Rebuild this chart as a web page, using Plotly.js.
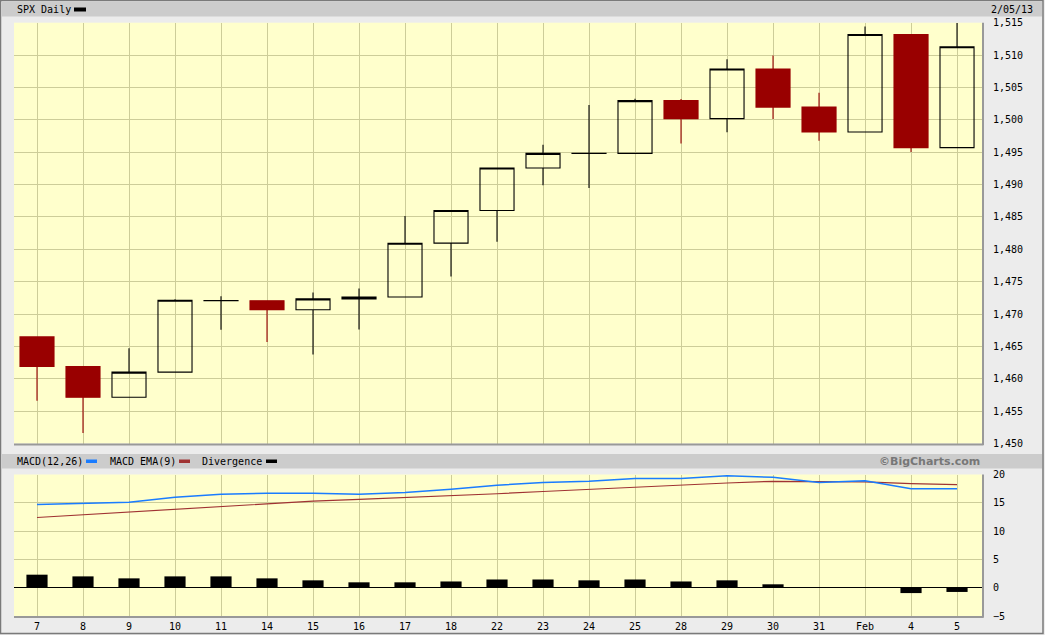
<!DOCTYPE html>
<html>
<head>
<meta charset="utf-8">
<script src="https://cdn.plot.ly/plotly-3.0.1.min.js"></script>
<style>
html,body{margin:0;padding:0;background:#ececec;}
#chart{width:1045px;height:635px;}
</style>
</head>
<body>
<div id="chart"></div>
<script>
// Category labels (trading days, Jan 7 – Feb 5, 2013)
const dates = ['7','8','9','10','11','14','15','16','17','18','22','23','24','25','28','29','30','31','Feb','4','5'];
// SPX daily OHLC
const open  = [1466.47,1461.89,1457.15,1461.02,1472.05,1472.05,1470.67,1472.33,1472.63,1480.95,1485.98,1492.56,1494.81,1494.82,1502.96,1500.18,1507.84,1501.96,1498.11,1513.17,1495.71];
const high  = [1466.47,1461.89,1464.73,1472.30,1472.75,1472.05,1473.31,1473.96,1485.16,1485.98,1492.56,1496.13,1502.27,1503.26,1503.23,1509.35,1509.94,1504.19,1514.41,1513.17,1514.96];
const low   = [1456.62,1451.64,1457.15,1461.02,1467.58,1465.69,1463.76,1467.60,1472.63,1475.81,1481.16,1489.90,1489.46,1494.82,1496.33,1498.09,1500.11,1496.76,1498.11,1495.02,1495.71];
const close = [1461.89,1457.15,1461.02,1472.12,1472.10,1470.68,1472.34,1472.63,1480.94,1485.98,1492.56,1494.81,1494.82,1502.96,1500.18,1507.84,1501.96,1498.11,1513.17,1495.71,1511.29];
// MACD panel
const macd       = [14.7,14.9,15.1,16.0,16.5,16.7,16.7,16.5,16.8,17.4,18.1,18.6,18.8,19.3,19.3,19.8,19.5,18.6,18.9,17.5,17.5];
const signal     = [12.4,12.9,13.4,13.9,14.4,14.9,15.3,15.6,15.9,16.2,16.6,17.0,17.4,17.8,18.1,18.5,18.8,18.7,18.7,18.4,18.2];
const divergence = [2.3,2.0,1.65,2.0,2.0,1.65,1.3,0.95,0.95,1.1,1.45,1.45,1.3,1.45,1.1,1.3,0.6,-0.05,0.05,-0.95,-0.75];

const idx = dates.map((d,i)=>i);
const W = 1045, H = 635;
const px = x => x / W;
const py = y => 1 - y / H;

const GRID = '#cdcd99';
const MONO = 'DejaVu Sans Mono';

const traces = [
  {
    type: 'candlestick', x: idx, open: open, high: high, low: low, close: close,
    xaxis: 'x', yaxis: 'y',
    increasing: {line: {color: '#000000', width: 1.1}, fillcolor: 'rgba(0,0,0,0)'},
    decreasing: {line: {color: '#990000', width: 1.1}, fillcolor: '#990000'},
    whiskerwidth: 0, hoverinfo: 'skip'
  },
  {
    type: 'bar', x: idx, y: divergence, xaxis: 'x2', yaxis: 'y2',
    width: 0.46, marker: {color: '#000000', line: {width: 0}}, hoverinfo: 'skip'
  },
  {
    type: 'scatter', mode: 'lines', x: idx, y: signal, xaxis: 'x2', yaxis: 'y2',
    line: {color: '#a03333', width: 1.2}, hoverinfo: 'skip'
  },
  {
    type: 'scatter', mode: 'lines', x: idx, y: macd, xaxis: 'x2', yaxis: 'y2',
    line: {color: '#1a7cff', width: 1.5}, hoverinfo: 'skip'
  }
];

const xDom = [px(14), px(982)];
const xRange = [-0.5, 20.543];

const layout = {
  width: W, height: H,
  margin: {l: 0, r: 0, t: 0, b: 0, pad: 0},
  paper_bgcolor: '#ececec',
  plot_bgcolor: '#ffffcc',
  showlegend: false,
  boxgap: 0.26, boxgroupgap: 0,
  font: {family: MONO, size: 10, color: '#000000'},
  xaxis: {
    domain: xDom, range: xRange, anchor: 'y',
    tickvals: idx, showticklabels: false, ticks: '',
    showgrid: true, gridcolor: GRID, gridwidth: 1, zeroline: false,
    rangeslider: {visible: false}, fixedrange: true
  },
  yaxis: {
    domain: [py(443.5), py(22.7)], range: [1450, 1515], anchor: 'x',
    side: 'right', tick0: 1450, dtick: 5, tickformat: ',d',
    ticks: 'outside', ticklen: 8, tickcolor: 'rgba(0,0,0,0)',
    showgrid: true, gridcolor: GRID, gridwidth: 1, zeroline: false,
    tickfont: {family: MONO, size: 10, color: '#000000'}, fixedrange: true
  },
  xaxis2: {
    domain: xDom, range: xRange, anchor: 'y2',
    tickvals: idx, ticktext: dates,
    ticks: 'outside', ticklen: 1, tickcolor: 'rgba(0,0,0,0)',
    showgrid: true, gridcolor: GRID, gridwidth: 1, zeroline: false,
    tickfont: {family: MONO, size: 10, color: '#000000'}, fixedrange: true
  },
  yaxis2: {
    domain: [py(616), py(474.5)], range: [-5, 20], anchor: 'x2',
    side: 'right', tick0: -5, dtick: 5,
    ticks: 'outside', ticklen: 8, tickcolor: 'rgba(0,0,0,0)',
    showgrid: true, gridcolor: GRID, gridwidth: 1,
    zeroline: true, zerolinecolor: '#000000', zerolinewidth: 1.2,
    tickfont: {family: MONO, size: 10, color: '#000000'}, fixedrange: true
  },
  shapes: [
    // header bars
    {type: 'rect', xref: 'paper', yref: 'paper', x0: px(2), x1: px(1042), y0: py(16.5), y1: py(2), fillcolor: '#cccccc', line: {width: 0}, layer: 'below'},
    {type: 'rect', xref: 'paper', yref: 'paper', x0: px(2), x1: px(1042), y0: py(468.5), y1: py(454), fillcolor: '#cccccc', line: {width: 0}, layer: 'below'},
    // plot shadows (bottom / right)
    {type: 'line', xref: 'paper', yref: 'paper', x0: px(14), x1: px(983.5), y0: py(444.5), y1: py(444.5), line: {color: '#999999', width: 2}},
    {type: 'line', xref: 'paper', yref: 'paper', x0: px(983), x1: px(983), y0: py(22.7), y1: py(445), line: {color: '#999999', width: 2}},
    {type: 'line', xref: 'paper', yref: 'paper', x0: px(14), x1: px(983.5), y0: py(617), y1: py(617), line: {color: '#999999', width: 2}},
    {type: 'line', xref: 'paper', yref: 'paper', x0: px(983), x1: px(983), y0: py(474.5), y1: py(617.5), line: {color: '#999999', width: 2}},
    // outer border
    {type: 'rect', xref: 'paper', yref: 'paper', x0: px(0.5), x1: px(1043), y0: py(633.5), y1: py(0.5), line: {color: '#7a7a7a', width: 1.5}, fillcolor: 'rgba(0,0,0,0)'},
    // legend swatches
    {type: 'rect', xref: 'paper', yref: 'paper', x0: px(74), x1: px(86), y0: py(11.5), y1: py(7.5), fillcolor: '#000000', line: {width: 0}},
    {type: 'rect', xref: 'paper', yref: 'paper', x0: px(86), x1: px(97), y0: py(463), y1: py(459.5), fillcolor: '#1a7cff', line: {width: 0}},
    {type: 'rect', xref: 'paper', yref: 'paper', x0: px(179), x1: px(190), y0: py(463), y1: py(459.5), fillcolor: '#a03333', line: {width: 0}},
    {type: 'rect', xref: 'paper', yref: 'paper', x0: px(266), x1: px(277), y0: py(463), y1: py(459.5), fillcolor: '#000000', line: {width: 0}}
  ],
  annotations: [
    {xref: 'paper', yref: 'paper', x: px(14.5), y: py(9.5), xanchor: 'left', yanchor: 'middle', showarrow: false, text: 'SPX Daily', font: {family: MONO, size: 10, color: '#000000'}},
    {xref: 'paper', yref: 'paper', x: px(1035), y: py(9.5), xanchor: 'right', yanchor: 'middle', showarrow: false, text: '2/05/13', font: {family: MONO, size: 10, color: '#000000'}},
    {xref: 'paper', yref: 'paper', x: px(14.5), y: py(461.5), xanchor: 'left', yanchor: 'middle', showarrow: false, text: 'MACD(12,26)', font: {family: MONO, size: 10, color: '#000000'}},
    {xref: 'paper', yref: 'paper', x: px(107.5), y: py(461.5), xanchor: 'left', yanchor: 'middle', showarrow: false, text: 'MACD EMA(9)', font: {family: MONO, size: 10, color: '#000000'}},
    {xref: 'paper', yref: 'paper', x: px(200), y: py(461.5), xanchor: 'left', yanchor: 'middle', showarrow: false, text: 'Divergence', font: {family: MONO, size: 10, color: '#000000'}},
    {xref: 'paper', yref: 'paper', x: px(982), y: py(461.5), xanchor: 'right', yanchor: 'middle', showarrow: false, text: '©BigCharts.com', font: {family: 'DejaVu Sans', size: 11, color: '#777777', weight: 'bold'}}
  ]
};

Plotly.newPlot('chart', traces, layout, {staticPlot: true, displayModeBar: false});
</script>
</body>
</html>
